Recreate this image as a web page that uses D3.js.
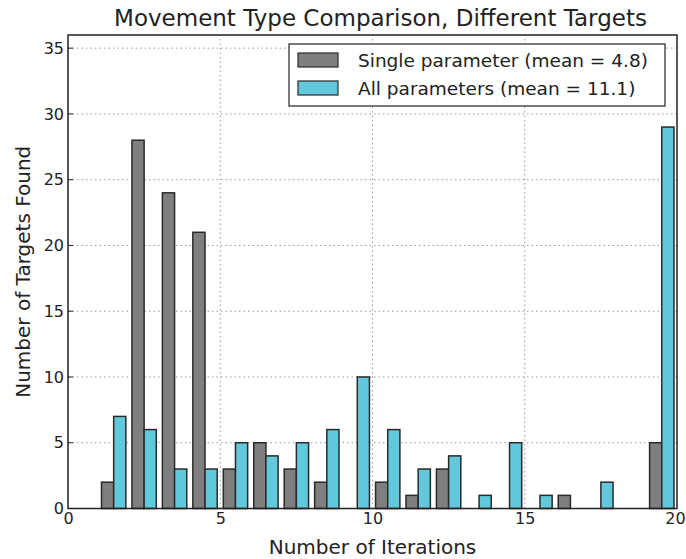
<!DOCTYPE html>
<html>
<head>
<meta charset="utf-8">
<script src="https://cdn.jsdelivr.net/npm/d3@7"></script>
<style>
  body { margin: 0; background: #fff; }
  text { font-family: "DejaVu Sans", sans-serif; fill: #222; }
</style>
</head>
<body>
<div id="chart"></div>
<script>
// histogram bins of width 1, from 1 to 20
var binStarts = d3.range(1, 20);
var singleCounts = [2, 28, 24, 21, 3, 5, 3, 2, 0, 2, 1, 3, 0, 0, 0, 1, 0, 0, 5];
var allCounts = [7, 6, 3, 3, 5, 4, 5, 6, 10, 6, 3, 4, 1, 5, 1, 0, 2, 0, 29];
var seriesNames = ["Single parameter (mean = 4.8)", "All parameters (mean = 11.1)"];
var seriesColors = ["#7f7f7f", "#62c8dc"];
var xTicks = [0, 5, 10, 15, 20];
var yTicks = [0, 5, 10, 15, 20, 25, 30, 35];

var w = 686, h = 559;
var margin = {top: 35, right: 9, bottom: 50, left: 68};

var svg = d3.select("#chart").append("svg")
    .attr("width", w)
    .attr("height", h);

var xScale = d3.scaleLinear().domain([0, 20]).range([margin.left, w - margin.right]);
var yScale = d3.scaleLinear().domain([0, 36]).range([h - margin.bottom - 0.5, margin.top]);

// grid
svg.append("g").selectAll("line.gx")
    .data(xTicks.slice(1, -1))
    .enter().append("line")
    .attr("x1", function(d) { return xScale(d); })
    .attr("x2", function(d) { return xScale(d); })
    .attr("y1", yScale.range()[0])
    .attr("y2", margin.top)
    .attr("stroke", "#999")
    .attr("stroke-dasharray", "1.5,3");

svg.append("g").selectAll("line.gy")
    .data(yTicks.slice(1))
    .enter().append("line")
    .attr("x1", margin.left)
    .attr("x2", w - margin.right)
    .attr("y1", function(d) { return yScale(d); })
    .attr("y2", function(d) { return yScale(d); })
    .attr("stroke", "#999")
    .attr("stroke-dasharray", "1.5,3");

// bars: two per bin, rwidth 0.8
var series = [singleCounts, allCounts];
series.forEach(function(counts, i) {
    svg.append("g").selectAll("rect")
        .data(binStarts.map(function(b, j) { return {x: b, v: counts[j]}; })
            .filter(function(d) { return d.v > 0; }))
        .enter().append("rect")
        .attr("x", function(d) { return xScale(d.x + 0.1 + 0.4 * i); })
        .attr("width", function(d) { return xScale(d.x + 0.5) - xScale(d.x + 0.1); })
        .attr("y", function(d) { return yScale(d.v); })
        .attr("height", function(d) { return yScale(0) - yScale(d.v); })
        .attr("fill", seriesColors[i])
        .attr("stroke", "#2a2a2a")
        .attr("stroke-width", 1.5);
});

// frame
svg.append("rect")
    .attr("x", margin.left)
    .attr("y", margin.top)
    .attr("width", w - margin.right - margin.left)
    .attr("height", yScale(0) - margin.top)
    .attr("fill", "none")
    .attr("stroke", "#222")
    .attr("stroke-width", 1.5);

// axes
var xAxis = d3.axisBottom(xScale).tickValues(xTicks).tickSize(0).tickPadding(4);
var yAxis = d3.axisLeft(yScale).tickValues(yTicks).tickSize(0).tickPadding(4);

svg.append("g")
    .attr("transform", "translate(0," + yScale(0) + ")")
    .call(xAxis)
    .call(function(g) { g.select(".domain").remove(); })
    .selectAll("text").attr("font-size", "16px").attr("fill", "#222")
    .attr("dx", function(d) { return d === 20 ? -2 : 0; });

svg.append("g")
    .attr("transform", "translate(" + margin.left + ",0)")
    .call(yAxis)
    .call(function(g) { g.select(".domain").remove(); })
    .selectAll("text").attr("font-size", "16px").attr("fill", "#222");

// small ticks inside
svg.append("g").selectAll("line")
    .data(yTicks)
    .enter().append("line")
    .attr("x1", margin.left).attr("x2", margin.left + 5)
    .attr("y1", function(d) { return yScale(d); })
    .attr("y2", function(d) { return yScale(d); })
    .attr("stroke", "#222");

// titles
svg.append("text")
    .attr("x", (margin.left + w - margin.right) / 2 + 8)
    .attr("y", 26)
    .style("text-anchor", "middle")
    .attr("font-size", "23px")
    .text("Movement Type Comparison, Different Targets");

svg.append("text")
    .attr("x", (margin.left + w - margin.right) / 2)
    .attr("y", 554)
    .style("text-anchor", "middle")
    .attr("font-size", "20px")
    .text("Number of Iterations");

svg.append("text")
    .attr("transform", "rotate(-90)")
    .attr("x", -(margin.top + yScale(0)) / 2)
    .attr("y", 30)
    .style("text-anchor", "middle")
    .attr("font-size", "20px")
    .text("Number of Targets Found");

// legend
var legend = svg.append("g").attr("transform", "translate(289,44)");
legend.append("rect")
    .attr("width", 376).attr("height", 62)
    .attr("fill", "#fff").attr("stroke", "#222").attr("stroke-width", 1.2);
seriesNames.forEach(function(name, i) {
    legend.append("rect")
        .attr("x", 9).attr("y", 9 + i * 28)
        .attr("width", 40).attr("height", 14)
        .attr("fill", seriesColors[i]).attr("stroke", "#2a2a2a").attr("stroke-width", 1.2);
    legend.append("text")
        .attr("x", 69).attr("y", 23 + i * 28)
        .attr("font-size", "18.5px")
        .text(name);
});
</script>
</body>
</html>
